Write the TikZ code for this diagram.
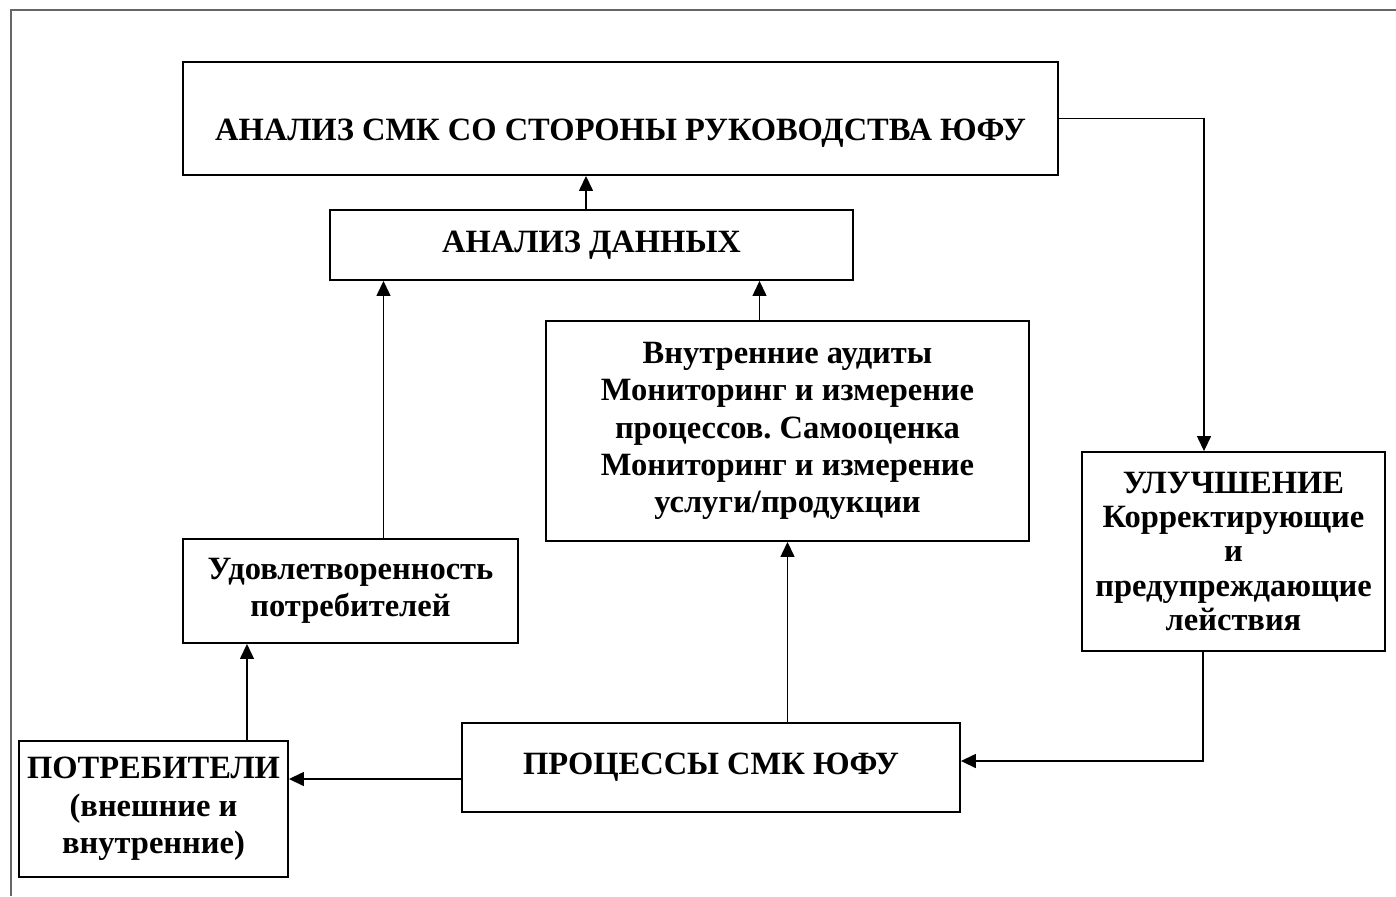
\documentclass[tikz,border=0pt]{standalone}
\usepackage{fontspec}
\setmainfont{Liberation Serif}
\frenchspacing
\usetikzlibrary{arrows.meta}

\begin{document}
\begin{tikzpicture}[x=0.02cm, y=-0.02cm,
  box/.style={draw, line width=1.1pt, rectangle, align=center, inner sep=2pt,
    font=\bfseries\fontsize{18.5}{21.3}\selectfont},
  arr/.style={line width=0.8pt, -{Triangle[length=0.3cm,width=0.28cm]}}]
\useasboundingbox (0,0) rectangle (1396,896);
\draw[line width=0.9pt, gray!80!black] (11,896)--(11,10)--(1396,10);
\node[box, minimum width=17.5cm, minimum height=2.26cm, text height=25pt, text depth=0pt] (analiz) at (620.5,118.5) {АНАЛИЗ СМК СО СТОРОНЫ РУКОВОДСТВА ЮФУ};
\node[box, minimum width=10.46cm, minimum height=1.4cm] (dannye) at (591.5,245) {АНАЛИЗ ДАННЫХ};
\node[box, minimum width=9.66cm, minimum height=4.4cm] (audit) at (787.5,431) {Внутренние аудиты\\Мониторинг и измерение\\процессов. Самооценка\\Мониторинг и измерение\\услуги/продукции};
\node[box, minimum width=6.7cm, minimum height=2.08cm] (udovl) at (350.5,591) {Удовлетворенность\\потребителей};
\node[box, minimum width=6.06cm, minimum height=3.98cm, font=\bfseries\fontsize{18.5}{19.6}\selectfont] (uluch) at (1233.5,551.5) {УЛУЧШЕНИЕ\\Корректирующие\\и\\предупреждающие\\лействия};
\node[box, minimum width=9.96cm, minimum height=1.78cm] (proc) at (711,767.5) {ПРОЦЕССЫ СМК ЮФУ};
\node[box, minimum width=5.38cm, minimum height=2.72cm] (potr) at (153.5,809) {ПОТРЕБИТЕЛИ\\(внешние и\\внутренние)};
\draw[arr] ([xshift=-0.11cm]dannye.north) -- ([xshift=-0.11cm]dannye.north |- analiz.south);
\draw[arr] ([xshift=0.66cm]udovl.north) -- ([xshift=0.66cm]udovl.north |- dannye.south);
\draw[arr] ([xshift=-0.56cm]audit.north) -- ([xshift=-0.56cm]audit.north |- dannye.south);
\draw[arr] (audit.south |- proc.north) -- (audit.south);
\draw[arr] ([xshift=1.87cm]potr.north) -- ([xshift=1.87cm]potr.north |- udovl.south);
\draw[arr] ([yshift=-0.23cm]proc.west) -- ([yshift=-0.23cm]proc.west -| potr.east);
\draw[arr] (analiz.east) -| ([xshift=-0.59cm]uluch.north);
\draw[arr] ([xshift=-0.61cm]uluch.south) |- ([yshift=0.13cm]proc.east);
\end{tikzpicture}
\end{document}
